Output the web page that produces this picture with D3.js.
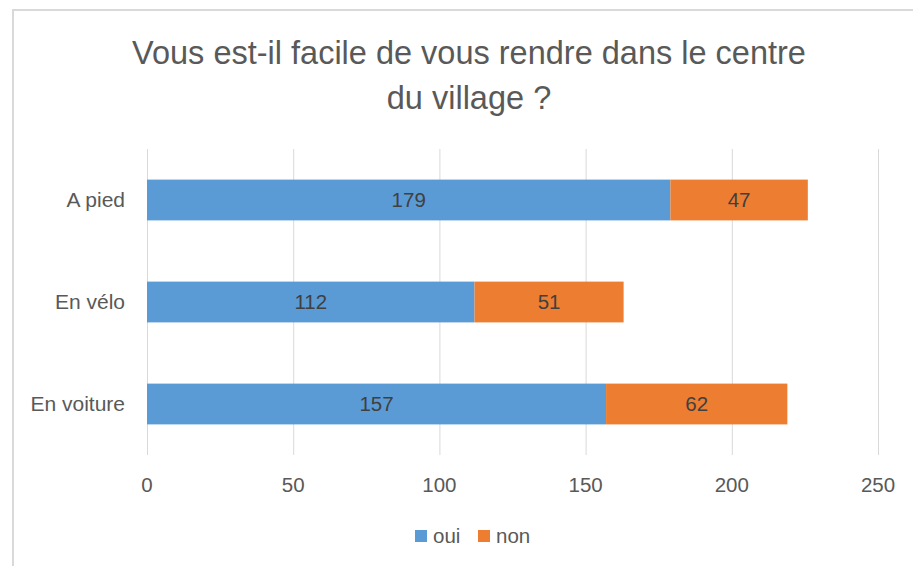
<!DOCTYPE html>
<html>
<head>
<meta charset="utf-8">
<script src="https://cdn.jsdelivr.net/npm/d3@7"></script>
<style>
  body { margin: 0; background: #fff; }
  text { font-family: "Liberation Sans", Arial, sans-serif; }
</style>
</head>
<body>
<svg id="chart" width="913" height="566"></svg>
<script>
// data
var categories = ['A pied', 'En vélo', 'En voiture'];
var oui = [179, 112, 157];
var non = [47, 51, 62];
var seriesNames = ['oui', 'non'];
var seriesColors = ['#5B9BD5', '#ED7D31'];
var xTicks = [0, 50, 100, 150, 200, 250];
var titleLines = ['Vous est-il facile de vous rendre dans le centre', 'du village ?'];

var svg = d3.select('#chart');

// chart frame (only top and left edges are visible)
svg.append('path')
    .attr('d', 'M13,566 V10 H913')
    .attr('fill', 'none')
    .attr('stroke', '#d9d9d9')
    .attr('stroke-width', 2);

var x = d3.scaleLinear().domain([0, 250]).range([147, 878]);
var y = d3.scaleBand().domain(categories).range([149, 455])
    .paddingInner(0.6).paddingOuter(0.3);

// title
svg.append('g').selectAll('text').data(titleLines).enter()
    .append('text')
    .attr('x', 469)
    .attr('y', function(d, i) { return 64 + i * 45; })
    .attr('text-anchor', 'middle')
    .attr('font-size', 32.5)
    .attr('fill', '#595959')
    .text(function(d) { return d; });

// gridlines
svg.append('g').selectAll('line').data(xTicks).enter()
    .append('line')
    .attr('x1', function(d) { return x(d) + 0.5; })
    .attr('x2', function(d) { return x(d) + 0.5; })
    .attr('y1', 149)
    .attr('y2', 455)
    .attr('stroke', '#d9d9d9')
    .attr('stroke-width', 1);

// stacked bars
var rows = categories.map(function(c, i) {
    return { cat: c, oui: oui[i], non: non[i] };
});
var stack = d3.stack().keys(seriesNames)(rows);

var layers = svg.append('g').selectAll('g').data(stack).enter()
    .append('g')
    .attr('fill', function(d, i) { return seriesColors[i]; });

layers.selectAll('rect').data(function(d) { return d; }).enter()
    .append('rect')
    .attr('x', function(d) { return x(d[0]); })
    .attr('width', function(d) { return x(d[1]) - x(d[0]); })
    .attr('y', function(d) { return y(d.data.cat); })
    .attr('height', y.bandwidth());

layers.selectAll('text').data(function(d) { return d; }).enter()
    .append('text')
    .attr('x', function(d) { return (x(d[0]) + x(d[1])) / 2; })
    .attr('y', function(d) { return y(d.data.cat) + y.bandwidth() / 2 + 7; })
    .attr('text-anchor', 'middle')
    .attr('font-size', 20.5)
    .attr('fill', '#404040')
    .text(function(d) { return d[1] - d[0]; });

// category labels
svg.append('g').selectAll('text').data(categories).enter()
    .append('text')
    .attr('x', 125)
    .attr('y', function(d) { return y(d) + y.bandwidth() / 2 + 7; })
    .attr('text-anchor', 'end')
    .attr('font-size', 21)
    .attr('fill', '#595959')
    .text(function(d) { return d; });

// x tick labels
svg.append('g').selectAll('text').data(xTicks).enter()
    .append('text')
    .attr('x', function(d) { return x(d); })
    .attr('y', 492)
    .attr('text-anchor', 'middle')
    .attr('font-size', 20.5)
    .attr('fill', '#595959')
    .text(function(d) { return d; });

// legend
var legendX = [415, 478];
var lg = svg.append('g').selectAll('g').data(seriesNames).enter()
    .append('g')
    .attr('transform', function(d, i) { return 'translate(' + legendX[i] + ',530)'; });
lg.append('rect')
    .attr('width', 12)
    .attr('height', 12)
    .attr('fill', function(d, i) { return seriesColors[i]; });
lg.append('text')
    .attr('x', 18)
    .attr('y', 13)
    .attr('font-size', 20.5)
    .attr('fill', '#595959')
    .text(function(d) { return d; });
</script>
</body>
</html>
